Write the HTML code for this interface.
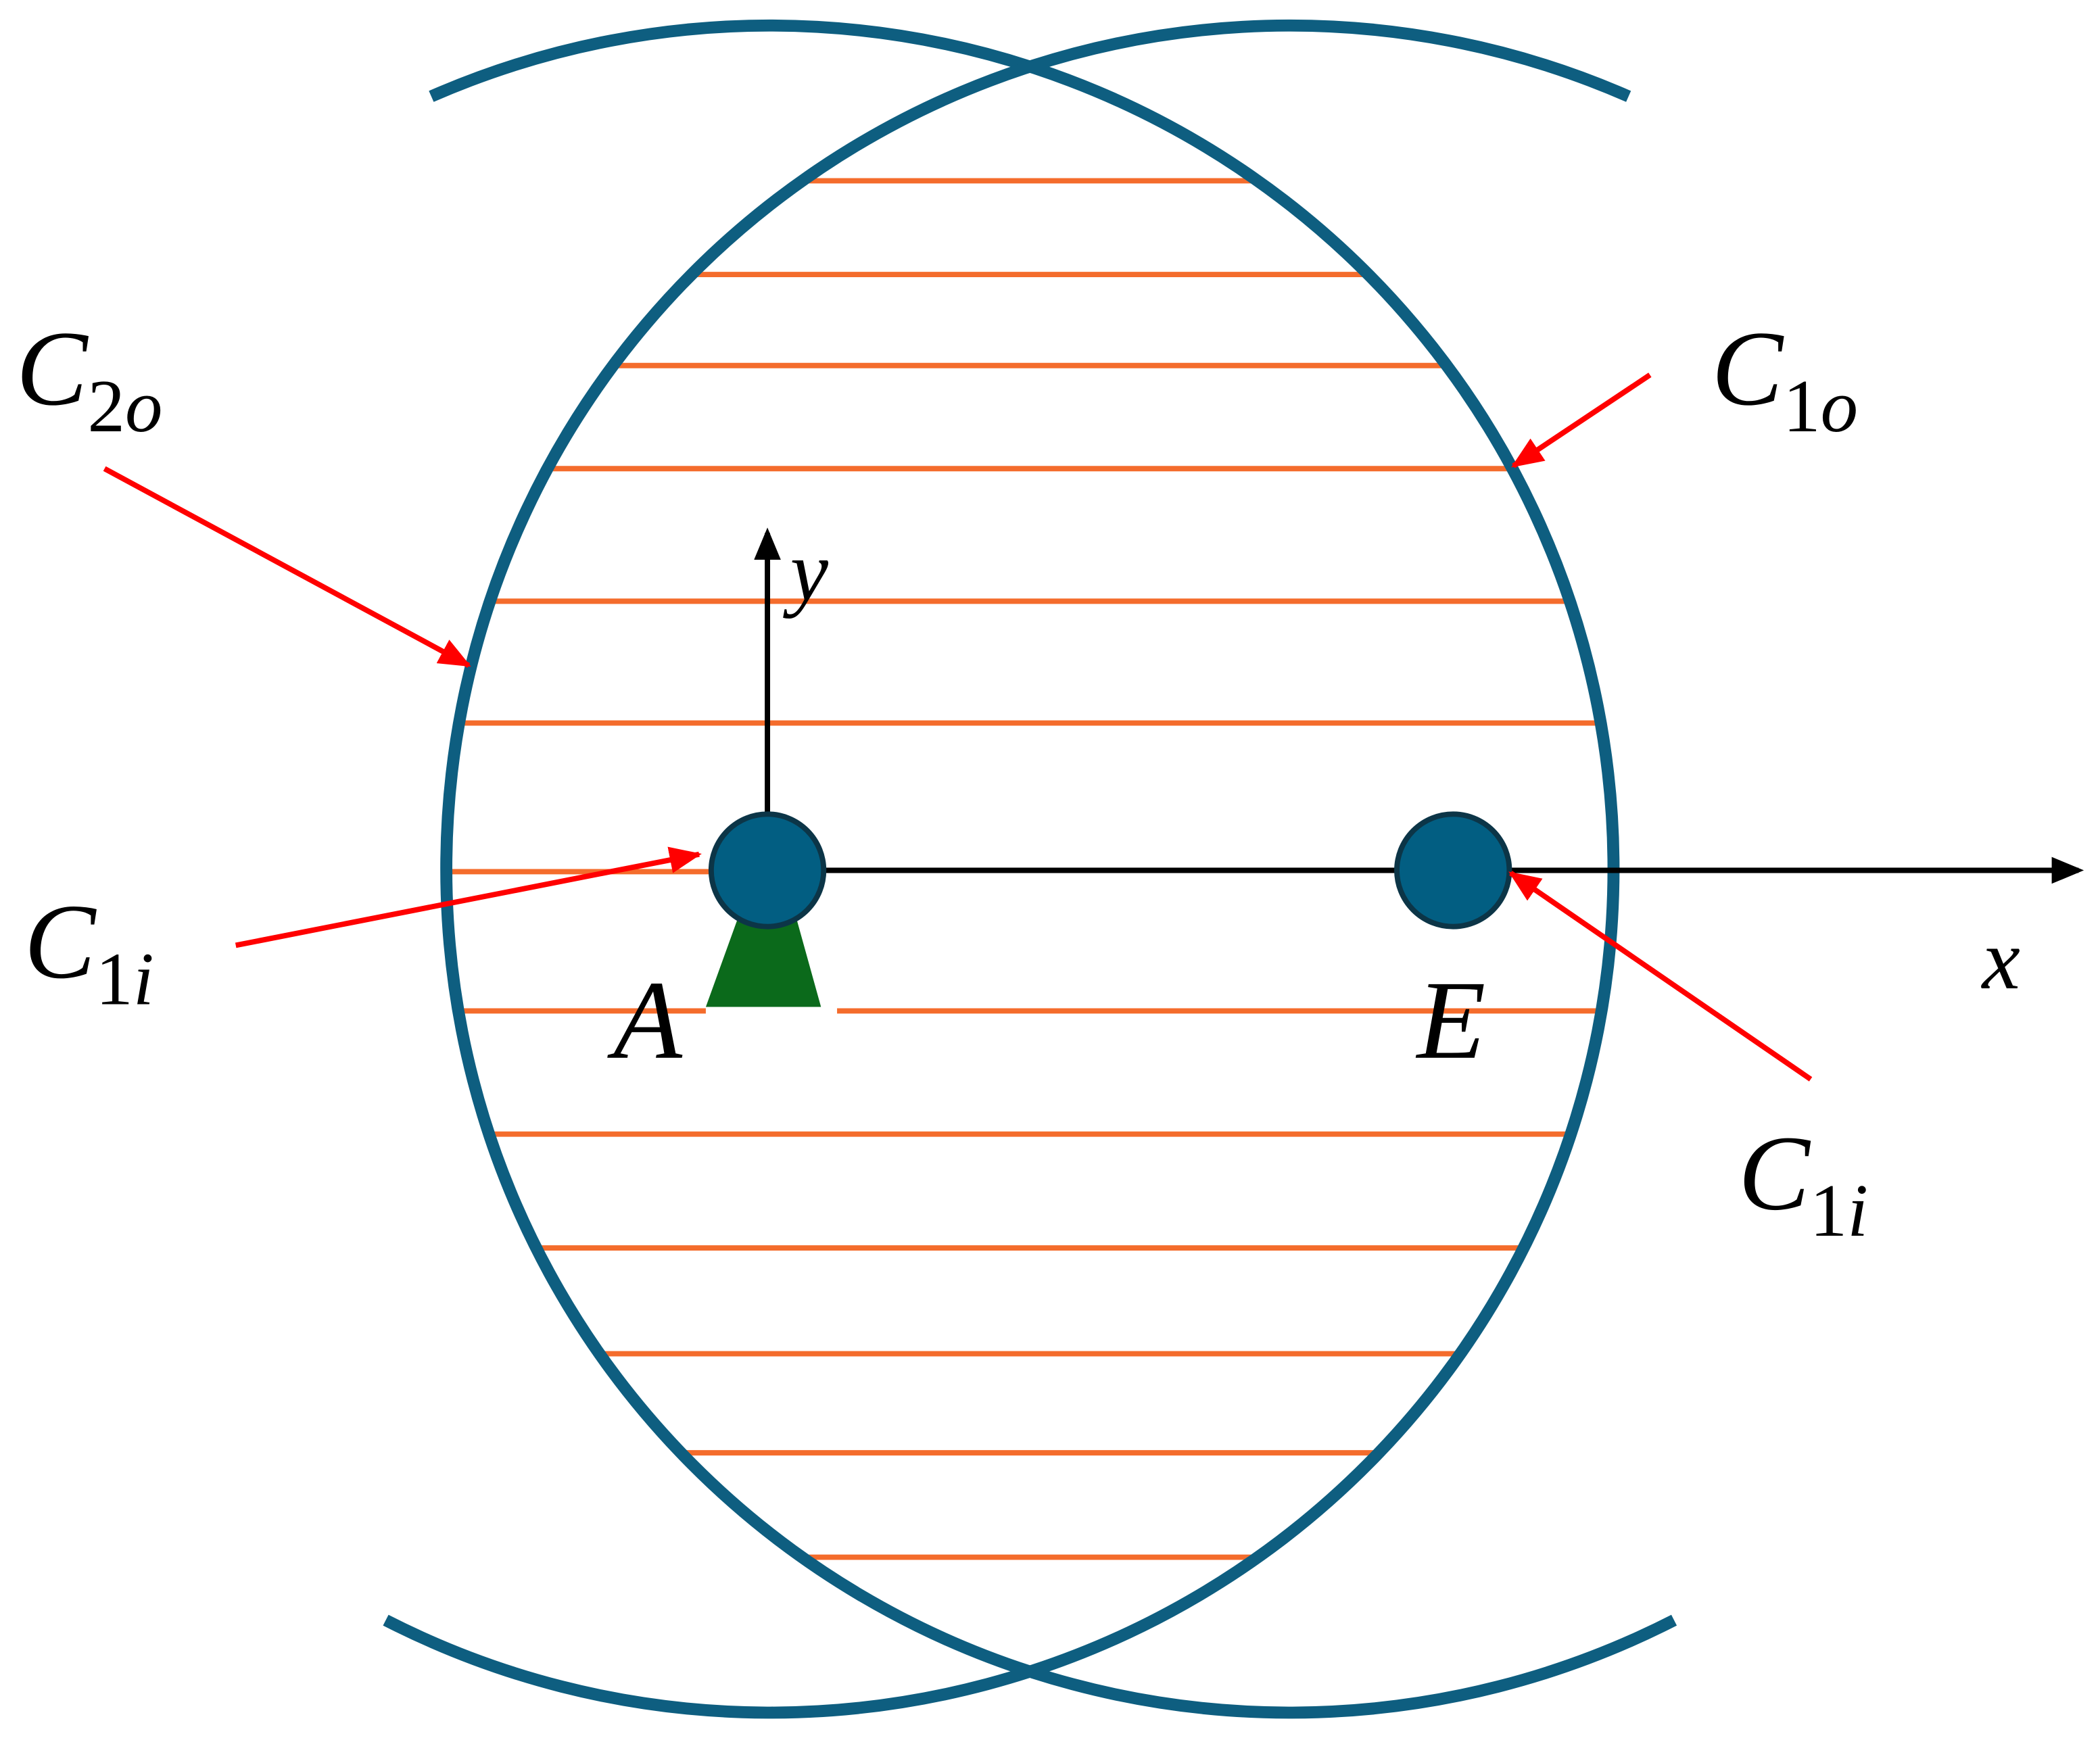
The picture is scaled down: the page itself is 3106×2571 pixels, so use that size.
<!DOCTYPE html>
<html><head><meta charset="utf-8"><style>
html,body{margin:0;padding:0;background:#fff;}
svg{display:block;}
text{font-family:"Liberation Serif",serif;font-style:italic;fill:#000;}
</style></head><body>
<svg width="3106" height="2571" viewBox="0 0 1568 1298" xmlns="http://www.w3.org/2000/svg">
<defs>
<clipPath id="cl"><circle cx="575" cy="649" r="630"/></clipPath>
<clipPath id="cr"><circle cx="963" cy="649" r="630"/></clipPath>
<marker id="ra" markerWidth="6" markerHeight="5" refX="5.5" refY="2.5" orient="auto" markerUnits="strokeWidth"><path d="M0,0 L6,2.5 L0,5 Z" fill="#f00"/></marker>
<marker id="ka" markerWidth="6" markerHeight="5" refX="5" refY="2.5" orient="auto" markerUnits="strokeWidth"><path d="M0,0 L6,2.5 L0,5 Z" fill="#000"/></marker>
</defs>
<g clip-path="url(#cl)"><g clip-path="url(#cr)" stroke="#f46c2c" stroke-width="4">
<line x1="0" y1="135" x2="1568" y2="135"/>
<line x1="0" y1="205" x2="1568" y2="205"/>
<line x1="0" y1="273" x2="1568" y2="273"/>
<line x1="0" y1="350" x2="1568" y2="350"/>
<line x1="0" y1="449" x2="1568" y2="449"/>
<line x1="0" y1="540" x2="1568" y2="540"/>
<line x1="0" y1="651" x2="530" y2="651"/>
<line x1="0" y1="755" x2="527" y2="755"/>
<line x1="625" y1="755" x2="1568" y2="755"/>
<line x1="0" y1="847" x2="1568" y2="847"/>
<line x1="0" y1="932" x2="1568" y2="932"/>
<line x1="0" y1="1011" x2="1568" y2="1011"/>
<line x1="0" y1="1085" x2="1568" y2="1085"/>
<line x1="0" y1="1163" x2="1568" y2="1163"/>
</g></g>
<g fill="none" stroke="#0e5e80" stroke-width="9">
<path d="M322,72 A630,630 0 1 1 288,1210"/>
<path d="M1216,72 A630,630 0 1 0 1250,1210"/>
</g>
<line x1="573" y1="608" x2="573" y2="398" stroke="#000" stroke-width="4" marker-end="url(#ka)"/>
<line x1="615" y1="650" x2="1552" y2="650" stroke="#000" stroke-width="4" marker-end="url(#ka)"/>
<polygon points="553,680 593,680 613,752 527,752" fill="#0b6a1b"/>
<circle cx="573" cy="650" r="42" fill="#025e82" stroke="#0c3547" stroke-width="4"/>
<circle cx="1085" cy="650" r="42" fill="#025e82" stroke="#0c3547" stroke-width="4"/>
<g stroke="#f00" stroke-width="4">
<line x1="78" y1="350" x2="350" y2="497" marker-end="url(#ra)"/>
<line x1="1232" y1="280" x2="1130" y2="348" marker-end="url(#ra)"/>
<line x1="176" y1="706" x2="522" y2="638" marker-end="url(#ra)"/>
<line x1="1352" y1="806" x2="1128" y2="652" marker-end="url(#ra)"/>
</g>
<text x="590" y="448" font-size="64">y</text>
<text x="1480" y="738" font-size="64">x</text>
<text x="458" y="790" font-size="84">A</text>
<text x="1058" y="790" font-size="84">E</text>
<text x="12" y="302" font-size="80">C<tspan font-size="56" dy="20" font-style="normal">2</tspan><tspan font-size="56">o</tspan></text>
<text x="1278" y="302" font-size="80">C<tspan font-size="56" dy="20" font-style="normal">1</tspan><tspan font-size="56">o</tspan></text>
<text x="18" y="730" font-size="80">C<tspan font-size="56" dy="20" font-style="normal">1</tspan><tspan font-size="56">i</tspan></text>
<text x="1298" y="903" font-size="80">C<tspan font-size="56" dy="20" font-style="normal">1</tspan><tspan font-size="56">i</tspan></text>
</svg>
</body></html>
